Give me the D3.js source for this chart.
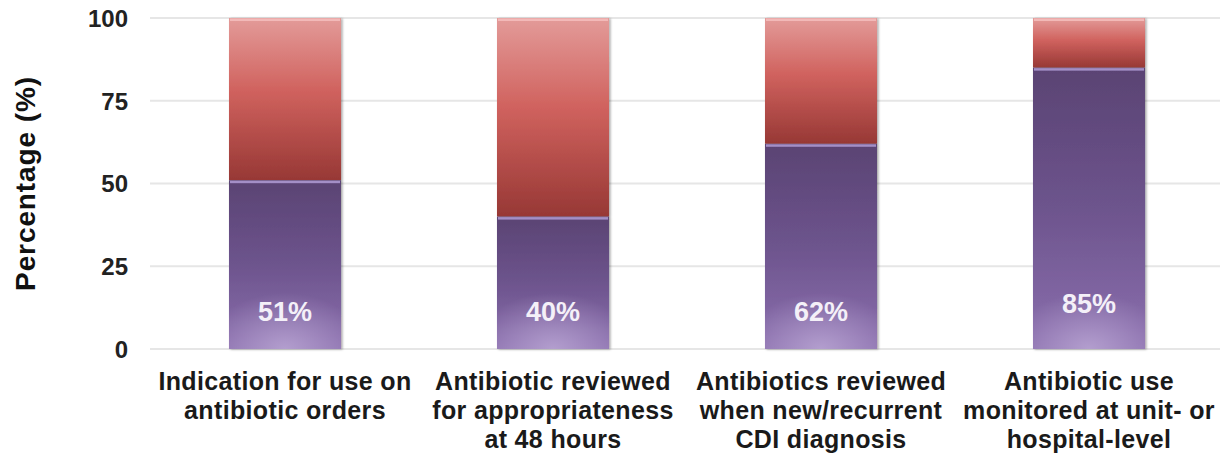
<!DOCTYPE html>
<html>
<head>
<meta charset="utf-8">
<script src="https://cdn.jsdelivr.net/npm/d3@7"></script>
<style>
  html, body { margin: 0; padding: 0; background: #fff; }
  svg { display: block; font-family: "Liberation Sans", Arial, sans-serif; }
</style>
</head>
<body>
<svg id="chart" width="1220" height="453"></svg>
<script>
// Share of hospitals meeting each antibiotic stewardship practice
const categories = [
  ["Indication for use on", "antibiotic orders"],
  ["Antibiotic reviewed", "for appropriateness", "at 48 hours"],
  ["Antibiotics reviewed", "when new/recurrent", "CDI diagnosis"],
  ["Antibiotic use", "monitored at unit- or", "hospital-level"]
];
const yesValues = [51, 40, 62, 85];
const yTicks = [0, 25, 50, 75, 100];

const svg = d3.select("#chart");
const defs = svg.append("defs");

// Red (remaining share) gradient: light top to dark bottom
const gRed = defs.append("linearGradient").attr("id", "gRed")
  .attr("x1", 0).attr("y1", 0).attr("x2", 0).attr("y2", 1);
[[0, "#e39b99"], [0.45, "#d0625e"], [1, "#973835"]].forEach(([o, c]) =>
  gRed.append("stop").attr("offset", o).attr("stop-color", c));

// Purple (achieved share) gradient: dark top to light bottom
const gPur = defs.append("linearGradient").attr("id", "gPur")
  .attr("x1", 0).attr("y1", 0).attr("x2", 0).attr("y2", 1);
[[0, "#5a4373"], [0.5, "#6d548d"], [1, "#8b6fae"]].forEach(([o, c]) =>
  gPur.append("stop").attr("offset", o).attr("stop-color", c));

// Soft glow at the foot of the purple segment
const gGlow = defs.append("radialGradient").attr("id", "gGlow")
  .attr("gradientUnits", "userSpaceOnUse")
  .attr("r", 80);
gGlow.append("stop").attr("offset", 0).attr("stop-color", "#c4b2dc").attr("stop-opacity", 0.7);
gGlow.append("stop").attr("offset", 1).attr("stop-color", "#c4b2dc").attr("stop-opacity", 0);

const shadow = defs.append("filter").attr("id", "shadow")
  .attr("x", "-10%").attr("y", "-5%").attr("width", "125%").attr("height", "115%");
shadow.append("feDropShadow").attr("dx", 1.5).attr("dy", 0.5)
  .attr("stdDeviation", 1.2).attr("flood-color", "#000").attr("flood-opacity", 0.35);

const x = d3.scaleBand()
  .domain(d3.range(categories.length))
  .range([151, 1223])
  .paddingInner(0.582)
  .paddingOuter(0.291);

const y = d3.scaleLinear().domain([0, 100]).range([349, 18]);

// Gridlines
svg.append("g").selectAll("line").data(yTicks).join("line")
  .attr("x1", 150).attr("x2", 1220)
  .attr("y1", d => y(d)).attr("y2", d => y(d))
  .attr("stroke", "#e6e6e6").attr("stroke-width", 2);

// Y axis tick labels
const yAxis = d3.axisLeft(y).tickValues(yTicks).tickSize(0).tickPadding(0);
const yg = svg.append("g").attr("transform", "translate(128,0)").call(yAxis);
yg.select(".domain").remove();
yg.selectAll("text")
  .attr("font-family", "Liberation Sans, Arial, sans-serif")
  .attr("font-size", 24).attr("font-weight", "bold").attr("fill", "#222")
  .attr("dy", "0.35em");

// Y axis title
svg.append("text")
  .attr("transform", `translate(35,${y(50)}) rotate(-90)`)
  .attr("text-anchor", "middle")
  .attr("font-size", 28).attr("font-weight", "bold").attr("fill", "#111")
  .attr("letter-spacing", 0.9)
  .text("Percentage (%)");

// Bars
const bars = svg.append("g").selectAll("g").data(yesValues).join("g")
  .attr("filter", "url(#shadow)");

bars.append("rect")
  .attr("x", (d, i) => x(i)).attr("width", x.bandwidth())
  .attr("y", y(100)).attr("height", d => y(d) - y(100))
  .attr("fill", "url(#gRed)");

bars.append("rect")
  .attr("x", (d, i) => x(i)).attr("width", x.bandwidth())
  .attr("y", d => y(d)).attr("height", d => y(0) - y(d))
  .attr("fill", "url(#gPur)");

// Glow per bar, centred on the bar foot
yesValues.forEach((d, i) => {
  const cx = x(i) + x.bandwidth() / 2;
  const g = gGlow.clone(true).attr("id", "gGlow" + i)
    .attr("cx", cx).attr("cy", y(0)).attr("fx", cx).attr("fy", y(0))
    .attr("gradientTransform", `translate(${cx},${y(0)}) scale(1,0.7) translate(${-cx},${-y(0)})`);
});
svg.append("g").selectAll("rect").data(yesValues).join("rect")
  .attr("x", (d, i) => x(i)).attr("width", x.bandwidth())
  .attr("y", d => y(d)).attr("height", d => y(0) - y(d))
  .attr("fill", (d, i) => `url(#gGlow${i})`);

// Bevel highlights on top edges
svg.append("g").selectAll("rect").data(yesValues).join("rect")
  .attr("x", (d, i) => x(i) + 1).attr("width", x.bandwidth() - 2)
  .attr("y", y(100) + 0.5).attr("height", 2.5)
  .attr("fill", "#f4bdbb").attr("opacity", 0.9);

svg.append("g").selectAll("rect").data(yesValues).join("rect")
  .attr("x", (d, i) => x(i) + 1).attr("width", x.bandwidth() - 2)
  .attr("y", d => y(d) + 0.5).attr("height", 2.5)
  .attr("fill", "#a48fc6");

// Value labels
svg.append("g").selectAll("text").data(yesValues).join("text")
  .attr("x", (d, i) => x(i) + x.bandwidth() / 2)
  .attr("y", d => d > 80 ? 313 : 321)
  .attr("text-anchor", "middle")
  .attr("font-size", 27).attr("font-weight", "bold").attr("fill", "#f4f0f8")
  .text(d => d + "%");

// Category labels
const xl = svg.append("g").selectAll("text").data(categories).join("text")
  .attr("x", (d, i) => x(i) + x.bandwidth() / 2)
  .attr("y", 390)
  .attr("text-anchor", "middle")
  .attr("font-size", 25).attr("font-weight", "bold").attr("fill", "#1a1a1a")
  .attr("letter-spacing", 0.35);
xl.selectAll("tspan").data(d => d).join("tspan")
  .attr("x", function () { return this.parentNode.getAttribute("x"); })
  .attr("dy", (d, j) => j === 0 ? 0 : 29)
  .text(d => d);
</script>
</body>
</html>
